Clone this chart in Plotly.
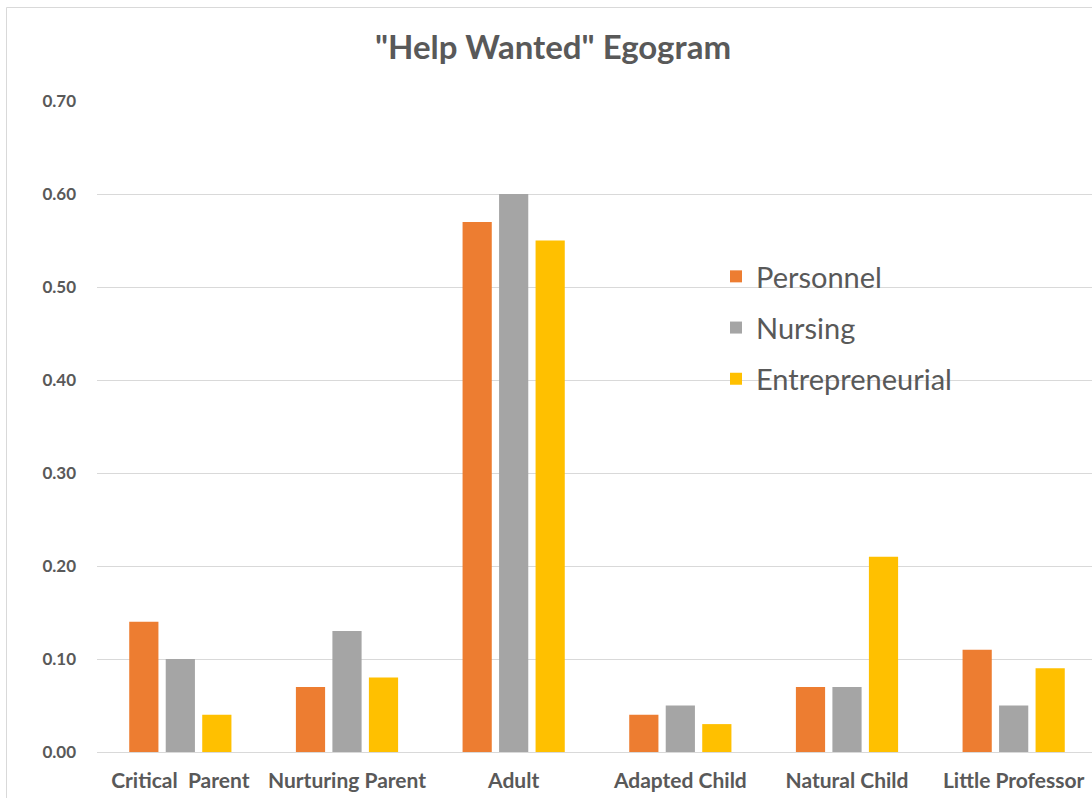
import plotly.graph_objects as go

categories = ["Critical  Parent", "Nurturing Parent", "Adult", "Adapted Child", "Natural Child", "Little Professor"]
personnel = [0.14, 0.07, 0.57, 0.04, 0.07, 0.11]
nursing = [0.10, 0.13, 0.60, 0.05, 0.07, 0.05]
entrepreneurial = [0.04, 0.08, 0.55, 0.03, 0.21, 0.09]
y_ticks = [0.0, 0.1, 0.2, 0.3, 0.4, 0.5, 0.6, 0.7]

series = [
    ("Personnel", personnel, "#ED7D31"),
    ("Nursing", nursing, "#A5A5A5"),
    ("Entrepreneurial", entrepreneurial, "#FFC000"),
]

fig = go.Figure()
for name, vals, color in series:
    fig.add_trace(go.Bar(
        x=categories, y=vals, name=name, marker_color=color,
        marker_line_width=0, legendgroup=name,
    ))

W, H = 1092, 798
L, R, T, B = 97, 0, 101, 46
pw, ph = W - L - R, H - T - B

def px_x(p):
    return (p - L) / pw

def px_y(p):
    return (H - B - p) / ph

fig.update_layout(
    width=W, height=H,
    margin=dict(l=L, r=R, t=T, b=B, pad=0),
    paper_bgcolor="white", plot_bgcolor="white",
    font=dict(family="Lato, Open Sans, sans-serif", color="#595959"),
    title=dict(text='<b>"Help Wanted" Egogram</b>', x=553 / W, xanchor="center",
               y=1 - 47 / H, yanchor="middle",
               font=dict(size=33, color="#595959")),
    barmode="group", bargap=0.343, bargroupgap=0.2,
    xaxis=dict(range=[-0.5, 5.47], showgrid=False, showline=False, zeroline=False,
               ticks="", tickfont=dict(size=21, color="#595959", weight="bold"),
               ticklabelstandoff=14),
    yaxis=dict(range=[0, 0.7], tickvals=y_ticks, tickformat=".2f",
               showgrid=True, gridcolor="#D9D9D9", gridwidth=1,
               zeroline=True, zerolinecolor="#D9D9D9", zerolinewidth=1,
               showline=False, ticks="", ticklabelstandoff=20,
               tickfont=dict(size=17, color="#595959", weight="bold")),
    legend=dict(x=px_x(716), y=px_y(251), xanchor="left", yanchor="top",
                bgcolor="rgba(0,0,0,0)", font=dict(size=29, color="#595959"),
                tracegroupgap=10.5, itemwidth=30),
    showlegend=True,
    shapes=[dict(type="rect", xref="paper", yref="paper",
                 x0=px_x(6.5), x1=px_x(1100), y0=px_y(805), y1=px_y(7.5),
                 line=dict(color="#D9D9D9", width=1), layer="below")],
)

fig.write_html(
    "out.html",
    config={"displayModeBar": False},
    post_script="document.body.style.margin='0';document.body.style.overflow='hidden';",
)
